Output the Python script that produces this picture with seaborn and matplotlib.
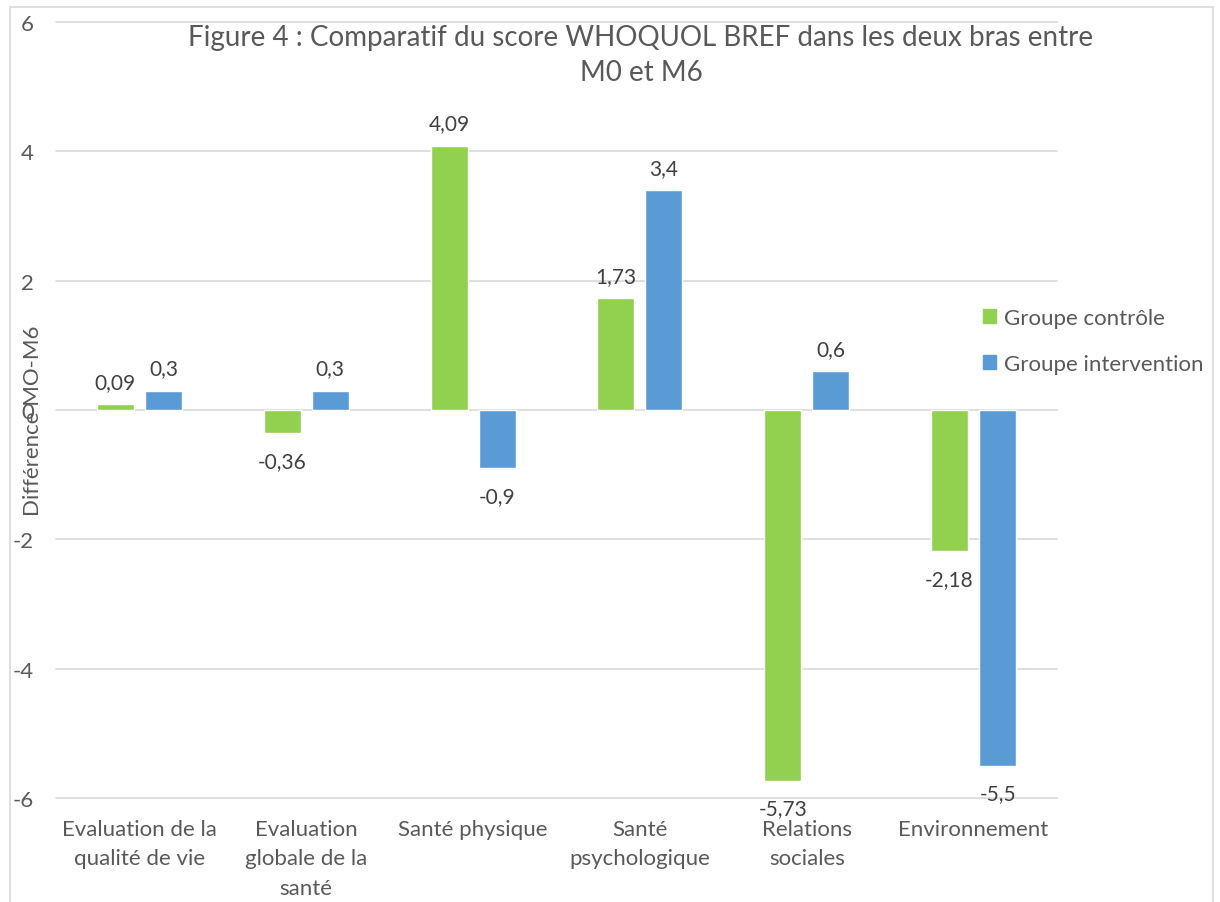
import matplotlib
matplotlib.use("Agg")
import matplotlib.pyplot as plt
import matplotlib.patches as mpatches
import pandas as pd
import seaborn as sns

categories = [
    "Evaluation de la\nqualité de vie",
    "Evaluation\nglobale de la\nsanté",
    "Santé physique",
    "Santé\npsychologique",
    "Relations\nsociales",
    "Environnement",
]
groups = ["Groupe contrôle", "Groupe intervention"]
controle = [0.09, -0.36, 4.09, 1.73, -5.73, -2.18]
intervention = [0.3, 0.3, -0.9, 3.4, 0.6, -5.5]
y_ticks = [-6, -4, -2, 0, 2, 4, 6]

df = pd.DataFrame({
    "categorie": categories * 2,
    "groupe": [groups[0]] * len(categories) + [groups[1]] * len(categories),
    "valeur": controle + intervention,
})

sns.set_theme(style="white")
plt.rcParams["font.family"] = ["Lato", "DejaVu Sans"]

grey = "#595959"
colors = ["#92D050", "#5B9BD5"]

fig = plt.figure(figsize=(12.2, 9.03), dpi=100)
ax = fig.add_axes([56 / 1220, 1 - 799 / 903, 1001 / 1220, 776 / 903])

sns.barplot(
    data=df, x="categorie", y="valeur", hue="groupe",
    order=categories, hue_order=groups, palette=colors,
    width=0.576, gap=0.23, saturation=1, legend=False, ax=ax,
)

# data labels
for container, vals in zip(ax.containers, [controle, intervention]):
    for bar, v in zip(container, vals):
        x = bar.get_x() + bar.get_width() / 2
        off = 16 if v >= 0 else -20
        ax.annotate(
            f"{v:g}".replace(".", ","), (x, v), xytext=(0, off),
            textcoords="offset points", ha="center", va="center",
            fontsize=15, color="#404040",
        )

ax.set_ylim(-6, 6)
ax.set_xlim(-0.5, len(categories) - 0.5)
ax.set_yticks(y_ticks)
ax.set_yticklabels([str(t) for t in y_ticks])
ax.yaxis.grid(True, color="#D9D9D9", linewidth=1.2)
ax.set_axisbelow(True)
for g in ax.get_ygridlines():
    g.set_clip_on(False)
for s in ax.spines.values():
    s.set_visible(False)
ax.tick_params(axis="y", length=0, pad=16, labelsize=16, labelcolor=grey)
ax.tick_params(axis="x", length=0, pad=15, labelsize=16, labelcolor=grey)
for lbl in ax.get_xticklabels():
    lbl.set_linespacing(1.6)
ax.set_xlabel("")
ax.set_ylabel("")

fig.text(33 / 1220, 1 - 421 / 903, "Différence MO-M6", rotation=90,
         ha="center", va="center", fontsize=16, color=grey)

fig.suptitle(
    "Figure 4 : Comparatif du score WHOQUOL BREF dans les deux bras entre\nM0 et M6",
    x=641 / 1220, y=1 - 25 / 903, fontsize=20, color=grey,
    va="top", linespacing=1.45,
)

handles = [mpatches.Patch(color=c, label=g) for c, g in zip(colors, groups)]
fig.legend(
    handles=handles, loc="upper left",
    bbox_to_anchor=(983 / 1220, 1 - 309 / 903), frameon=False,
    fontsize=16, labelcolor=grey, handlelength=0.6, handleheight=0.6,
    handletextpad=0.35, labelspacing=1.15, borderpad=0, borderaxespad=0,
)

# outer chart border
fig.patches.append(mpatches.Rectangle(
    (10 / 1220, -0.05), 1203 / 1220, 1 - 8 / 903 + 0.05,
    transform=fig.transFigure, fill=False, edgecolor="#D9D9D9", linewidth=1.2,
))

fig.savefig("out.png", dpi=100)
